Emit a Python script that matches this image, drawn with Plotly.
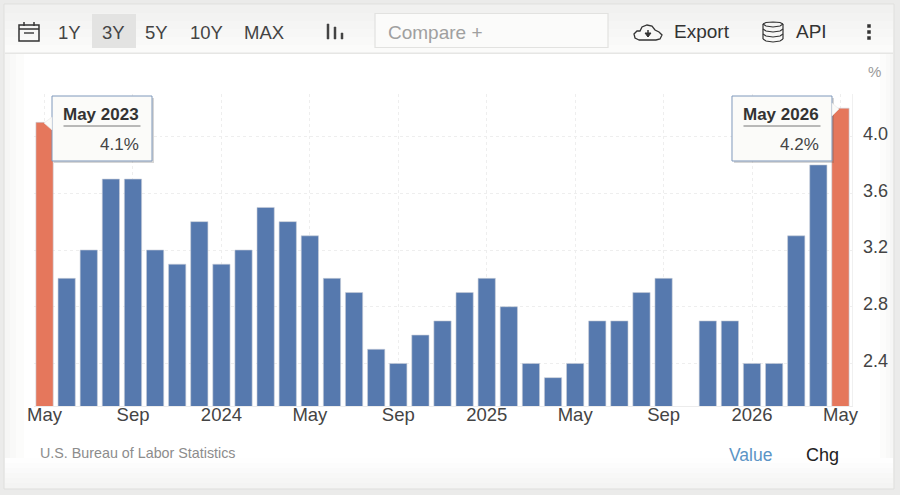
import plotly.graph_objects as go

months = ["May 2023","Jun 2023","Jul 2023","Aug 2023","Sep 2023","Oct 2023","Nov 2023","Dec 2023",
          "Jan 2024","Feb 2024","Mar 2024","Apr 2024","May 2024","Jun 2024","Jul 2024","Aug 2024",
          "Sep 2024","Oct 2024","Nov 2024","Dec 2024","Jan 2025","Feb 2025","Mar 2025","Apr 2025",
          "May 2025","Jun 2025","Jul 2025","Aug 2025","Sep 2025","Oct 2025","Nov 2025","Dec 2025",
          "Jan 2026","Feb 2026","Mar 2026","Apr 2026","May 2026"]
values = [4.1,3.0,3.2,3.7,3.7,3.2,3.1,3.4,3.1,3.2,3.5,3.4,3.3,3.0,2.9,2.5,2.4,2.6,2.7,2.9,
          3.0,2.8,2.4,2.3,2.4,2.7,2.7,2.9,3.0,None,2.7,2.7,2.4,2.4,3.3,3.8,4.2]
highlighted = ["May 2023", "May 2026"]
x_tick_months = ["May 2023","Sep 2023","Jan 2024","May 2024","Sep 2024","Jan 2025","May 2025","Sep 2025","Jan 2026","May 2026"]
x_tick_labels = ["May","Sep","2024","May","Sep","2025","May","Sep","2026","May"]
y_ticks = [2.4, 2.8, 3.2, 3.6, 4.0]
y_tick_labels = ["2.4","2.8","3.2","3.6","4.0"]
range_buttons = ["1Y","3Y","5Y","10Y","MAX"]

W, H = 900, 495
BLUE, ORANGE = "#5679ae", "#e5775c"
FONT = "Liberation Sans"
px = lambda x: x / W
py = lambda y: 1 - y / H
shapes, notes = [], []

def rect(x0, y0, x1, y1, fill="rgba(0,0,0,0)", line=None, lw=1):
    shapes.append(dict(type="rect", xref="paper", yref="paper", x0=px(x0), x1=px(x1), y0=py(y0), y1=py(y1),
                       fillcolor=fill, line=dict(color=line or "rgba(0,0,0,0)", width=lw if line else 0), layer="below"))

def path(points, close=False, fill="rgba(0,0,0,0)", line="#333", lw=1.5, layer="above"):
    d = "M " + " L ".join(f"{px(a):.5f},{py(b):.5f}" for a, b in points) + (" Z" if close else "")
    shapes.append(dict(type="path", xref="paper", yref="paper", path=d, fillcolor=fill,
                       line=dict(color=line, width=lw), layer=layer))

def text(x, y, s, size=16, color="#333", anchor="center", bold=False, font=FONT):
    notes.append(dict(xref="paper", yref="paper", x=px(x), y=py(y), xanchor=anchor, yanchor="middle",
                      text=f"<b>{s}</b>" if bold else s, showarrow=False,
                      font=dict(family=font, size=size, color=color)))

# page frame and soft shading
rect(0, 0, 900, 495, "#ebebea")
rect(4, 4, 894, 489, "#f3f3f2", "#dfdfdd")
for i, c in enumerate(["#f1f1f0", "#f3f3f2", "#f5f5f4", "#f7f7f6", "#f9f9f8", "#fbfbfa"]):
    rect(5, 5 + i * 8, 893, 5 + (i + 1) * 8 + 1, c)
rect(5, 52.5, 893, 54, "#e6e6e4")
rect(5, 54, 893, 488, "#f6f6f5")
rect(10, 54, 890, 488, "#f9f9f8")
rect(16, 54, 886, 488, "#fcfcfb")
rect(24, 54, 880, 488, "#ffffff")
for i, c in enumerate(["#fefefe", "#fcfcfc", "#fafafa", "#f8f8f7", "#f6f6f5", "#f4f4f3"]):
    rect(5, 458 + i * 5, 893, 464 + i * 5 if i < 5 else 488, c)

# toolbar controls
rect(92, 14, 136, 48, "#e3e3e2")
for label, cx in zip(range_buttons, [69, 113, 156, 206, 264]):
    text(cx, 32.5, label, 18.5, "#444")
rect(375, 13.5, 608, 47.5, "#fbfbfa", "#e2e2e0", 1.2)
text(385.5, 32.5, "Compare +", 19, "#a0a0a0", "left")
text(672, 31.5, "Export", 19, "#333", "left")
text(794, 31.5, "API", 19, "#333", "left")

# calendar icon
path([(19, 25), (39, 25), (39, 41), (19, 41)], True)
path([(19, 29), (39, 29)])
path([(24, 22), (24, 26)]); path([(34, 22), (34, 26)])
path([(24, 33), (34, 33)], line="#444", lw=1.5)
# column chart icon
for x0, top in [(327, 24), (334, 27), (341, 33)]:
    path([(x0, top), (x0 + 2, top), (x0 + 2, 39), (x0, 39)], True, fill="#444", line="#444", lw=.5)
# cloud icon
path([(639, 40), (635, 38), (634, 34), (637, 31), (640, 31), (642, 27), (647, 25), (652, 26), (655, 30),
      (659, 32), (662, 35), (660, 39), (656, 40)], True, lw=1.3)
path([(648, 30), (648, 37)], lw=1.5); path([(645, 33), (648, 37), (651, 33)], True, fill="#333", lw=1)
# database icon
for yy in [24, 29, 34, 39]:
    path([(763, yy), (766, yy + 2), (773, yy + 3), (780, yy + 2), (783, yy)], lw=1.2)
path([(763, 24), (766, 22.5), (773, 22), (780, 22.5), (783, 24)], lw=1.2)
path([(763, 24), (763, 39)], lw=1.2); path([(783, 24), (783, 39)], lw=1.2)
# menu dots
for yy in [26, 32, 38]:
    path([(867.5, yy - 1.5), (870.5, yy - 1.5), (870.5, yy + 1.5), (867.5, yy + 1.5)], True, fill="#333", line="#333", lw=.5)

# tooltips
for x0, tip, title, val in [(52, [(52, 117), (44, 123), (52, 130)], "May 2023", "4.1%"),
                            (732, [(832, 103), (839, 109), (832, 116)], "May 2026", "4.2%")]:
    path([(x0 + 2, 98), (x0 + 102, 98), (x0 + 102, 163), (x0 + 2, 163)], True, fill="rgba(90,90,90,0.25)", line="rgba(0,0,0,0)", lw=0)
    path([(x0, 96), (x0 + 100, 96), (x0 + 100, 161), (x0, 161)], True, fill="#fbfbf9", line="#7f98bb", lw=1)
    path(tip, True, fill="#fbfbf9", line="#e6e6e6", lw=.6)
    path([(x0 + 11.5, 126), (x0 + 88.5, 126)], line="#777", lw=1)
    text(x0 + 89, 115, title, 17, "#333", "right", True)
    text(x0 + 89, 144, val, 17, "#444", "right")

text(874, 71, "%", 15, "#9a9a9a")
text(38, 453, "U.S. Bureau of Labor Statistics", 14.3, "#8c8c8c", "left")
text(727, 455, "Value", 17.5, "#5b94c5", "left")
text(804, 455, "Chg", 18, "#222", "left")

colors = [ORANGE if m in highlighted else BLUE for m in months]
fig = go.Figure(go.Bar(x=months, y=values, marker=dict(color=colors, line=dict(color="#c9cfd8", width=0.6)),
                       width=0.78, hoverinfo="skip"))
grid = dict(showgrid=True, gridcolor="#eeeeee", gridwidth=1, griddash="dot", zeroline=False)
fig.update_layout(
    width=W, height=H, autosize=False, margin=dict(l=0, r=0, t=0, b=0, autoexpand=False),
    paper_bgcolor="rgba(0,0,0,0)", plot_bgcolor="rgba(0,0,0,0)", showlegend=False,
    shapes=shapes, annotations=notes,
    xaxis=dict(domain=[33.5 / W, 851.5 / W], type="category", categoryorder="array", categoryarray=months,
               range=[-0.5, 36.5], tickmode="array", tickvals=x_tick_months, ticktext=x_tick_labels,
               ticks="", showline=True, linecolor="#ececec", tickangle=0,
               tickfont=dict(family=FONT, size=18.5, color="#444"), ticklabelstandoff=-8, **grid),
    yaxis=dict(domain=[1 - 406 / H, 1 - 94 / H], range=[2.1, 4.3], side="right", tickmode="array",
               tickvals=y_ticks, ticktext=y_tick_labels, ticks="", showline=True, linecolor="#f0f0f0",
               tickfont=dict(family=FONT, size=18, color="#444"), ticklabelstandoff=7, ticklabelshift=-3, **grid),
)
fig.write_html("out.html", config=dict(displayModeBar=False),
               post_script="document.body.style.margin='0';document.body.style.overflow='hidden';")
